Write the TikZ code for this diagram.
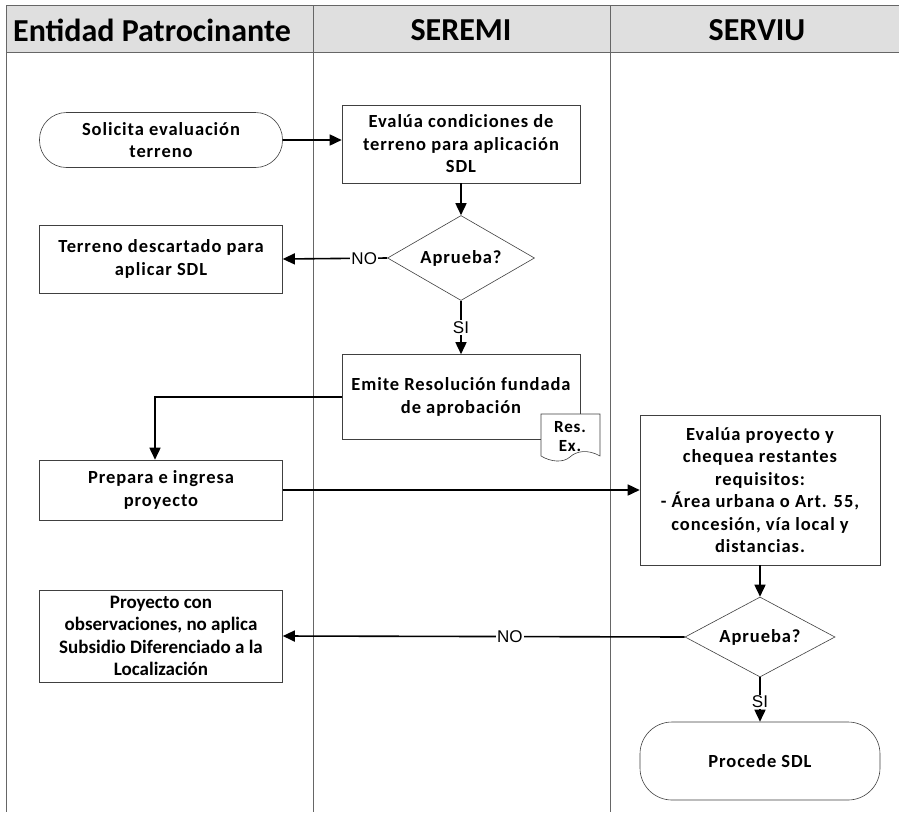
\documentclass[tikz,border=0pt]{standalone}
\usepackage{fontspec}
\setmainfont{Carlito}
\newfontfamily\boxfont{Carlito}[LetterSpace=5]
\newfontfamily\lblfont{Liberation Sans}
\usetikzlibrary{arrows.meta,shapes.geometric}
\tikzset{
  lane/.style={draw=black!60, line width=0.6pt},
  box/.style={draw=black!75, line width=0.6pt, fill=white, align=center, inner sep=1pt,
    font=\boxfont\bfseries\fontsize{18.5}{22.5}\selectfont},
  term/.style={box, rounded corners=27pt},
  dec/.style={box, diamond, inner sep=0pt, aspect=1.7},
  conn/.style={draw=black, line width=1.6pt, -{Triangle[length=12pt,width=11pt]}},
  lbl/.style={fill=white, inner sep=1pt, font=\lblfont\fontsize{17}{19}\selectfont},
  hdr/.style={font=\bfseries\fontsize{32}{34}\selectfont}
}
\begin{document}
\begin{tikzpicture}[x=1pt,y=-1pt]
\useasboundingbox (0,0) rectangle (899,817);
% header
\fill[gray!25] (6,5) rectangle (899,52);
\draw[lane] (6,5) -- (899,5);
\draw[lane] (6,52) -- (899,52);
\draw[lane] (6,5) -- (6,812);
\draw[lane] (313,5) -- (313,812);
\draw[lane] (610,5) -- (610,812);
\node[hdr] (h1) at (152,30) {Entidad Patrocinante};
\node[hdr] (h2) at (461,30) {SEREMI};
\node[hdr] (h3) at (757,30) {SERVIU};
% nodes
\node[term, minimum width=243pt, minimum height=55pt] (sol) at (161,140) {Solicita evaluación\\terreno};
\node[box, minimum width=238pt, minimum height=78pt] (eva) at (461,144) {Evalúa condiciones de\\terreno para aplicación\\SDL};
\node[dec, minimum width=147pt, minimum height=85pt] (ap1) at (461,258) {Aprueba?};
\node[box, minimum width=243pt, minimum height=68pt] (des) at (161,259) {Terreno descartado para\\aplicar SDL};
\node[box, minimum width=238pt, minimum height=85pt] (emi) at (461,397) {Emite Resolución fundada\\de aprobación};
% document shape
\draw[black!75, line width=0.6pt, fill=white] (541,414) -- (600,414) -- (600,456)
  .. controls (588,449) and (576,451) .. (570,457)
  .. controls (563,463) and (551,462) .. (541,456) -- cycle;
\node[font=\boxfont\bfseries\fontsize{17}{19}\selectfont, inner sep=0pt] (res) at (570,427) {Res.};
\node[font=\boxfont\bfseries\fontsize{17}{19}\selectfont, inner sep=0pt] (ex) at (570,446) {Ex.};
\node[box, minimum width=243pt, minimum height=60pt] (pre) at (161,490) {Prepara e ingresa\\proyecto};
\node[box, minimum width=240pt, minimum height=150pt] (evp) at (760,490) {Evalúa proyecto y\\chequea restantes\\requisitos:\\- Área urbana o Art. 55,\\concesión, vía local y\\distancias.};
\node[dec, minimum width=150pt, minimum height=80pt] (ap2) at (760,637) {Aprueba?};
\node[box, minimum width=243pt, minimum height=92pt, font=\bfseries\fontsize{19}{22.5}\selectfont] (obs) at (161,636) {Proyecto con\\observaciones, no aplica\\Subsidio Diferenciado a la\\Localización};
\node[box, rounded corners=32pt, minimum width=240pt, minimum height=78pt] (pro) at (760,761) {Procede SDL};
% connectors
\draw[conn] (sol.east) -- (sol.east -| eva.west);
\draw[conn] (eva) -- (ap1);
\draw[conn] (ap1.west) -- node[lbl, pos=0.22] {NO} (des.east);
\draw[conn] (ap1.south) -- node[lbl, pos=0.5] {SI} (emi.north);
\draw[conn] (emi.west) -| ([xshift=-6pt]pre.north);
\draw[conn] (pre.east) -- (evp.west);
\draw[conn] (evp) -- (ap2);
\draw[conn] (ap2.west) -- node[lbl, pos=0.435] {NO} (obs.east);
\draw[conn] (ap2.south) -- node[lbl, pos=0.55] {SI} (pro.north);
\end{tikzpicture}
\end{document}
